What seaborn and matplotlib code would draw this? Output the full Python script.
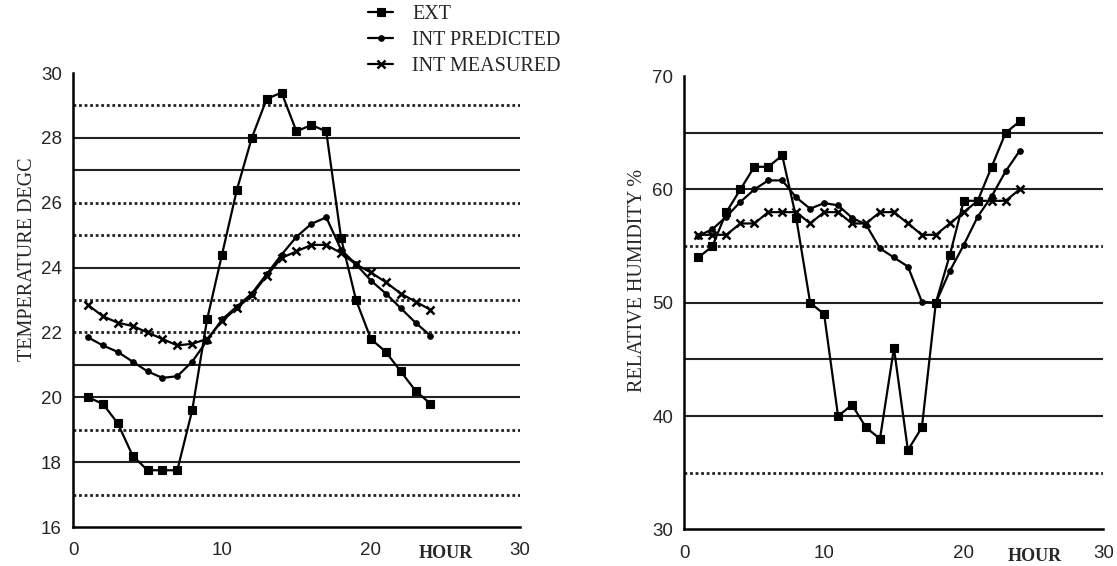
import numpy as np
import pandas as pd
import matplotlib
matplotlib.use('Agg')
import matplotlib.pyplot as plt
from matplotlib.lines import Line2D
from matplotlib.ticker import MultipleLocator
import seaborn as sns

# --- data (hourly values, hours 1..24) ---
hours = list(range(1, 25))

temp_ext = [20.0, 19.8, 19.2, 18.2, 17.75, 17.75, 17.75, 19.6, 22.4, 24.4, 26.4, 28.0,
            29.2, 29.4, 28.2, 28.4, 28.2, 24.9, 23.0, 21.8, 21.4, 20.8, 20.2, 19.8]
temp_pred = [21.85, 21.6, 21.4, 21.1, 20.8, 20.6, 20.65, 21.1, 21.75, 22.4, 22.8, 23.2,
             23.8, 24.4, 24.95, 25.35, 25.55, 24.55, 24.1, 23.6, 23.2, 22.75, 22.3, 21.9]
temp_meas = [22.85, 22.5, 22.3, 22.2, 22.0, 21.8, 21.6, 21.65, 21.8, 22.35, 22.75, 23.15,
             23.75, 24.3, 24.5, 24.7, 24.7, 24.45, 24.1, 23.85, 23.55, 23.2, 22.95, 22.7]

rh_ext = [54.0, 55.0, 58.0, 60.0, 62.0, 62.0, 63.0, 57.5, 50.0, 49.0, 40.0, 41.0,
          39.0, 38.0, 46.0, 37.0, 39.0, 50.0, 54.2, 59.0, 59.0, 62.0, 65.0, 66.0]
rh_pred = [55.9, 56.5, 57.6, 58.9, 60.0, 60.8, 60.8, 59.3, 58.3, 58.8, 58.6, 57.5,
           56.9, 54.8, 54.0, 53.2, 50.1, 50.0, 52.8, 55.1, 57.6, 59.4, 61.6, 63.4]
rh_meas = [56.0, 56.0, 56.0, 57.0, 57.0, 58.0, 58.0, 58.0, 57.0, 58.0, 58.0, 57.0,
           57.0, 58.0, 58.0, 57.0, 56.0, 56.0, 57.0, 58.0, 59.0, 59.0, 59.0, 60.0]

series_names = ['EXT', 'INT PREDICTED', 'INT MEASURED']

# gridline levels and their look (solid / dotted), as seen in the scan
temp_grid = [17, 18, 19, 20, 21, 22, 23, 24, 25, 26, 27, 28, 29]
temp_grid_ls = [':', '-', ':', '-', '-', ':', ':', '-', ':', ':', '-', '-', ':']
rh_grid = [35, 40, 45, 50, 55, 60, 65]
rh_grid_ls = [':', '-', '-', '-', ':', '-', '-']

sns.set_style('white')
plt.rcParams['font.family'] = ['Liberation Serif', 'DejaVu Serif']

markers = {'EXT': dict(marker='s', markersize=5.5, mew=0.8),
           'INT PREDICTED': dict(marker='o', markersize=4, mew=0.8),
           'INT MEASURED': dict(marker='x', markersize=5.5, mew=1.8)}

fig = plt.figure(figsize=(11.17, 5.66), dpi=100)
ax1 = fig.add_axes([0.0654, 0.0689, 0.400, 0.802])
ax2 = fig.add_axes([0.6128, 0.0645, 0.375, 0.801])


def draw_panel(ax, ext, pred, meas, grid, grid_ls, ylim, ystep, ylabel, ylab_xy):
    for lvl, ls in zip(grid, grid_ls):
        if ls == ':':
            ax.axhline(lvl, color='#222222', lw=2.0, ls=(0, (1, 1)), zorder=1)
        else:
            ax.axhline(lvl, color='#222222', lw=1.5, ls='-', zorder=1)
    df = pd.DataFrame({'hour': hours, 'EXT': ext, 'INT PREDICTED': pred, 'INT MEASURED': meas})
    for name in series_names:
        sns.lineplot(data=df, x='hour', y=name, ax=ax, color='black', lw=1.6,
                     markeredgecolor='black', markerfacecolor='black', zorder=3,
                     **markers[name])
    ax.set_xlim(0, 30)
    ax.set_ylim(*ylim)
    ax.xaxis.set_major_locator(MultipleLocator(10))
    ax.xaxis.set_minor_locator(MultipleLocator(5))
    ax.yaxis.set_major_locator(MultipleLocator(ystep))
    for side in ['top', 'right']:
        ax.spines[side].set_visible(False)
    for side in ['left', 'bottom']:
        ax.spines[side].set_linewidth(1.8)
        ax.spines[side].set_color('black')
    ax.tick_params(axis='x', which='both', direction='in', length=5, width=1.5, pad=11,
                   labelsize=13.5)
    ax.tick_params(axis='y', direction='out', length=6, width=1.5, pad=2, labelsize=13.5)
    for lab in ax.get_xticklabels() + ax.get_yticklabels():
        lab.set_family(['Liberation Sans', 'DejaVu Sans'])
    ax.set_xlabel('')
    ax.set_ylabel(ylabel, fontsize=14.5)
    ax.yaxis.set_label_coords(*ylab_xy)
    ax.text(0.835, -0.04, 'HOUR', transform=ax.transAxes, ha='center', va='top',
            fontsize=13, fontweight='bold')


draw_panel(ax1, temp_ext, temp_pred, temp_meas, temp_grid, temp_grid_ls,
           (16, 30), 2, 'TEMPERATURE DEGC', (-0.08, 0.59))
draw_panel(ax2, rh_ext, rh_pred, rh_meas, rh_grid, rh_grid_ls,
           (30, 70), 10, 'RELATIVE HUMIDITY %', (-0.09, 0.55))

handles = [Line2D([], [], color='black', lw=1.6, markerfacecolor='black',
                  markeredgecolor='black', **markers[n]) for n in series_names]
fig.legend(handles, series_names, loc='upper left', bbox_to_anchor=(0.3295, 0.992),
           frameon=False, handlelength=1.25, handletextpad=0.95, labelspacing=0.35,
           borderpad=0, borderaxespad=0, fontsize=14.5)

fig.savefig('out.png', dpi=100)
